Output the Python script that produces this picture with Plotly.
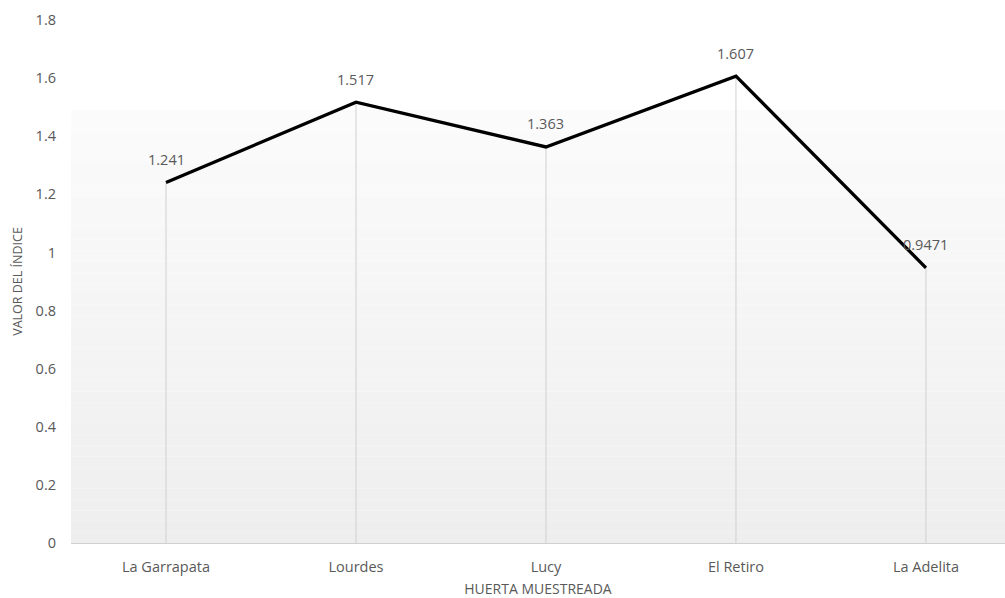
import plotly.graph_objects as go

# Índice por huerta muestreada
huertas = ["La Garrapata", "Lourdes", "Lucy", "El Retiro", "La Adelita"]
valores = [1.241, 1.517, 1.363, 1.607, 0.9471]
etiquetas = ["1.241", "1.517", "1.363", "1.607", "0.9471"]
y_ticks = [0, 0.2, 0.4, 0.6, 0.8, 1, 1.2, 1.4, 1.6, 1.8]
y_ticktext = ["0", "0.2", "0.4", "0.6", "0.8", "1", "1.2", "1.4", "1.6", "1.8"]

FONT = "'Open Sans', sans-serif"
GRAY_TEXT = "#595959"

x_pos = list(range(len(huertas)))

fig = go.Figure()

# Soft textured background band, lighter at the top, slightly gray at the bottom
n_bands = 40
top_frac = 0.828
for i in range(n_bands):
    y0 = top_frac * i / n_bands
    y1 = top_frac * (i + 1) / n_bands
    t = i / (n_bands - 1)
    c = int(round(238 + (251 - 238) * t))
    fig.add_shape(type="rect", xref="paper", yref="paper",
                  x0=0, x1=1, y0=y0, y1=y1,
                  fillcolor=f"rgb({c},{c},{c})", line_width=0, layer="below")

# Drop lines from each point down to the axis
for xi, v in zip(x_pos, valores):
    fig.add_trace(go.Scatter(x=[xi, xi], y=[0, v], mode="lines",
                             line=dict(color="#d0d0d0", width=1),
                             hoverinfo="skip", showlegend=False))

fig.add_trace(go.Scatter(
    x=x_pos, y=valores, mode="lines",
    line=dict(color="#000000", width=3.3),
    showlegend=False,
))

# Value labels above each point
for xi, v, lab in zip(x_pos, valores, etiquetas):
    fig.add_annotation(x=xi, y=v, text=lab, showarrow=False,
                       xanchor="center", yanchor="middle", yshift=23,
                       font=dict(family=FONT, size=14.5, color=GRAY_TEXT))

fig.update_layout(
    width=1005, height=598,
    margin=dict(l=71, r=0, t=20, b=55),
    paper_bgcolor="white", plot_bgcolor="white",
    font=dict(family=FONT, size=14.5, color=GRAY_TEXT),
    xaxis=dict(
        range=[-0.5, 4.416], tickvals=x_pos, ticktext=huertas,
        showgrid=False, zeroline=False, showline=True,
        linecolor="#d0d0d0", linewidth=1, ticks="",
        ticklabelstandoff=11, automargin=False,
        tickfont=dict(family=FONT, size=14.5, color=GRAY_TEXT),
        title=dict(text="HUERTA MUESTREADA", standoff=8,
                   font=dict(family=FONT, size=14, color=GRAY_TEXT)),
    ),
    yaxis=dict(
        range=[0, 1.8], tickvals=y_ticks, ticktext=y_ticktext,
        showgrid=False, zeroline=False, showline=False, ticks="",
        ticklabelstandoff=14, automargin=False,
        tickfont=dict(family=FONT, size=14.5, color=GRAY_TEXT),
        title=dict(text="VALOR DEL ÍNDICE", standoff=10,
                   font=dict(family=FONT, size=12.5, color=GRAY_TEXT)),
    ),
)

fig.write_html("out.html")
